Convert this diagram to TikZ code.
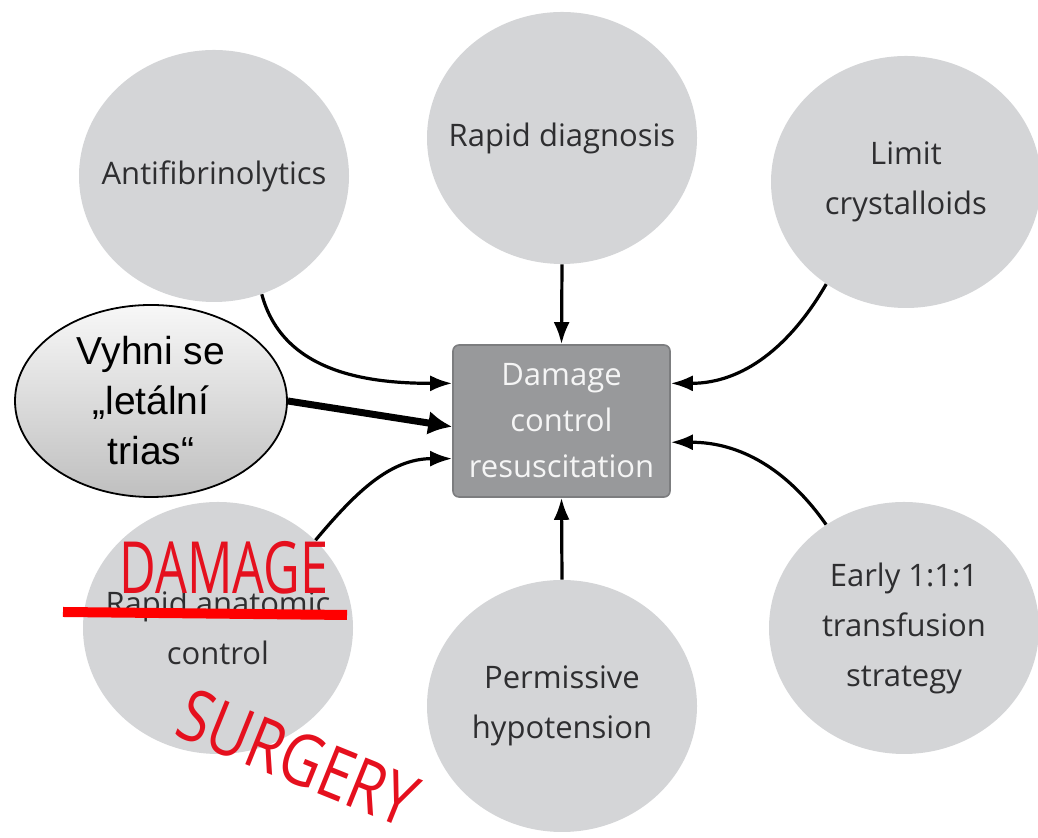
\documentclass[tikz,border=0pt]{standalone}
\usepackage{fontspec}
\setmainfont{Open Sans}
\newfontfamily\calloutfont{Liberation Sans}
\usetikzlibrary{shapes.geometric,arrows.meta}
\definecolor{bubblegray}{HTML}{D4D5D7}
\definecolor{bubbletext}{HTML}{2E2E30}
\definecolor{boxgray}{HTML}{98999B}
\definecolor{boxedge}{HTML}{7C7D7F}
\definecolor{penred}{HTML}{E5101E}

\begin{document}
\begin{tikzpicture}[%
    x=0.5pt,
    y=0.5pt,
    bubble/.style={
      ellipse,
      fill=bubblegray,
      text=bubbletext,
      align=center,
      inner xsep=-12pt,
      inner ysep=0pt,
      minimum width=135pt,
      minimum height=126pt,
      font=\fontsize{15.5}{25}\selectfont
    },
    hub/.style={
      rectangle,
      rounded corners=3pt,
      fill=boxgray,
      draw=boxedge,
      line width=0.8pt,
      text=white!92!gray,
      align=center,
      minimum width=108.5pt,
      minimum height=76pt,
      font=\fontsize{15.5}{23}\selectfont
    },
    callout/.style={
      ellipse,
      draw=black,
      line width=0.9pt,
      top color=gray!6,
      bottom color=gray!50,
      align=center,
      inner sep=0pt,
      minimum width=136pt,
      minimum height=96pt,
      font=\calloutfont\fontsize{19.5}{25}\selectfont
    },
    feed/.style={-{Latex[length=11pt,width=8pt]}, line width=1.6pt},
    hint/.style={-{Latex[length=12pt,width=12pt]}, line width=3.5pt},
    scrawl/.style={text=penred, inner sep=0pt, font=\fontsize{36}{36}\selectfont},
  ]
    \useasboundingbox (0,0) rectangle (1038,838);
    \node[bubble] (antifib) at (214,662) {Antifibrinolytics};
    \node[bubble] (diag) at (562,700) {Rapid diagnosis};
    \node[bubble] (limit) at (906,656) {Limit\\crystalloids};
    \node[bubble] (anatomic) at (218,210) {Rapid anatomic\\control};
    \node[bubble] (permissive) at (562,132) {Permissive\\hypotension};
    \node[bubble] (early) at (904,210) {Early 1:1:1\\transfusion\\strategy};
    \node[hub] (dcr) at (561.5,417) {Damage\\control\\resuscitation};
    \node[callout] (trias) at (151,437) {Vyhni se\\„letální\\trias“};
    \draw[feed] (diag.south) -- (dcr.north);
    \draw[feed] (permissive.north) -- (dcr.south);
    \draw[feed] (antifib.-68) to[out=-75,in=180] (dcr.161);
    \draw[feed] (limit.232) to[out=-120,in=0] (dcr.19);
    \draw[feed] (anatomic.42) to[out=50,in=180] (dcr.199);
    \draw[feed] (early.127) to[out=125,in=0] (dcr.349);
    \draw[hint] (trias.east) -- (dcr.183);
    \draw[red, line width=5pt] (63,226) -- (347,223);
    \node[scrawl, xscale=0.7] (damage) at (224,270) {DAMAGE};
    \node[scrawl, rotate=-22, xscale=0.8] (surgery) at (298,80) {SURGERY};
  \end{tikzpicture}
\end{document}
